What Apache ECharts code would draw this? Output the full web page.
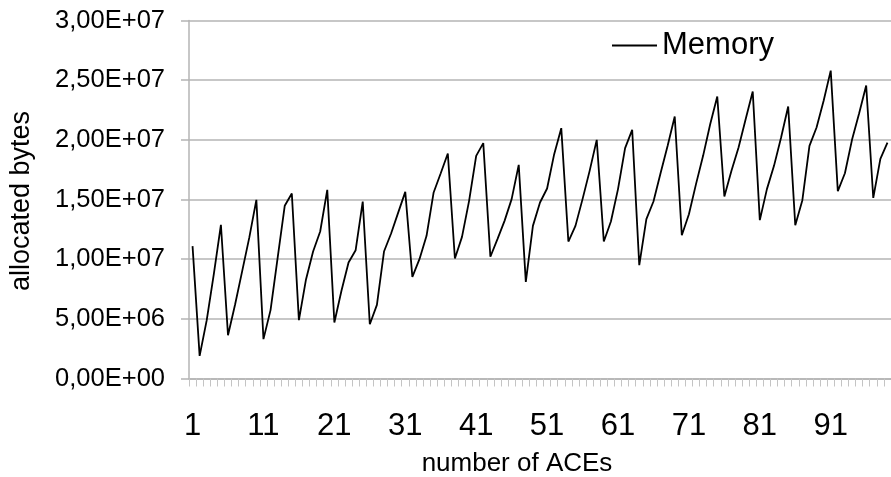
<!DOCTYPE html>
<html>
<head>
<meta charset="utf-8">
<script src="https://cdn.jsdelivr.net/npm/echarts@6/dist/echarts.min.js"></script>
<style>
  html, body { margin: 0; padding: 0; background: #fff; }
  #chart { width: 891px; height: 477px; }
</style>
</head>
<body>
<div id="chart"></div>
<script>
// number of ACEs 1..99 (the right end of the plot is cut off in the picture)
var aces = []
for (var n = 1; n <= 99; n++) aces.push(String(n))

// allocated bytes
var memory = [
  1.109e7, 1.9e6, 4.89e6, 8.74e6, 1.288e7, 3.63e6, 6.2e6, 9.0e6, 1.18e7, 1.497e7,
  3.3e6, 5.73e6, 1.01e7, 1.447e7, 1.55e7, 4.89e6, 8.3e6, 1.064e7, 1.232e7, 1.581e7,
  4.69e6, 7.35e6, 9.72e6, 1.075e7, 1.483e7, 4.55e6, 6.17e6, 1.064e7, 1.215e7, 1.39e7,
  1.564e7, 8.52e6, 1.0e7, 1.196e7, 1.559e7, 1.72e7, 1.886e7, 1.006e7, 1.187e7, 1.489e7,
  1.866e7, 1.972e7, 1.02e7, 1.168e7, 1.321e7, 1.503e7, 1.79e7, 8.1e6, 1.279e7, 1.475e7,
  1.592e7, 1.88e7, 2.098e7, 1.148e7, 1.279e7, 1.503e7, 1.74e7, 2.0e7, 1.148e7, 1.316e7,
  1.587e7, 1.93e7, 2.084e7, 9.5e6, 1.335e7, 1.483e7, 1.72e7, 1.95e7, 2.196e7, 1.2e7,
  1.377e7, 1.629e7, 1.866e7, 2.131e7, 2.363e7, 1.525e7, 1.74e7, 1.936e7, 2.173e7, 2.405e7,
  1.327e7, 1.587e7, 1.782e7, 2.02e7, 2.279e7, 1.285e7, 1.494e7, 1.95e7, 2.103e7, 2.327e7,
  2.58e7, 1.57e7, 1.72e7, 2.0e7, 2.22e7, 2.455e7, 1.513e7, 1.84e7, 1.977e7
]

var yMin = 0
var yMax = 3e7
var yStep = 5e6

// Excel style scientific label: 2,50E+07
function sci(v) {
  if (v === 0) return '0,00E+00'
  var e = Math.floor(Math.log10(v) + 1e-9)
  var m = v / Math.pow(10, e)
  return m.toFixed(2).replace('.', ',') + 'E+' + (e < 10 ? '0' + e : e)
}

var font = 'Liberation Sans, Arial, sans-serif'
var gridGray = '#b4b4b4'

var chart = echarts.init(document.getElementById('chart'))

var option = {
  animation: false,
  backgroundColor: '#fff',
  grid: {
    left: 189,
    right: -5,
    top: 20.5,
    bottom: 98.5,
    containLabel: false
  },
  legend: {
    left: 612,
    top: 30,
    padding: 0,
    icon: 'rect',
    itemWidth: 45,
    itemHeight: 2,
    itemGap: 4,
    textStyle: { fontFamily: font, fontSize: 31, color: '#000' },
    data: ['Memory']
  },
  xAxis: {
    type: 'category',
    data: aces,
    boundaryGap: true,
    axisLine: { lineStyle: { color: gridGray, width: 1.5 } },
    axisTick: {
      show: true,
      interval: 0,
      length: 8,
      lineStyle: { color: '#c4c4c4', width: 1 }
    },
    axisLabel: {
      interval: 9,
      margin: 32,
      fontFamily: font,
      fontSize: 31,
      color: '#000'
    },
    splitLine: { show: false }
  },
  yAxis: {
    type: 'value',
    min: yMin,
    max: yMax,
    interval: yStep,
    axisLine: { show: true, lineStyle: { color: gridGray, width: 1.5 } },
    axisTick: { show: true, length: 8, lineStyle: { color: gridGray, width: 1.5 } },
    axisLabel: {
      margin: 24,
      formatter: sci,
      fontFamily: font,
      fontSize: 25.5,
      color: '#000'
    },
    splitLine: { lineStyle: { color: gridGray, width: 1.5 } }
  },
  graphic: [
    {
      type: 'text',
      x: 22,
      y: 201,
      rotation: Math.PI / 2,
      style: {
        text: 'allocated bytes',
        fontFamily: font,
        fontSize: 27,
        fill: '#000',
        align: 'center',
        verticalAlign: 'middle'
      }
    },
    {
      type: 'text',
      x: 517,
      y: 464,
      style: {
        text: 'number of ACEs',
        fontFamily: font,
        fontSize: 26,
        fill: '#000',
        align: 'center',
        verticalAlign: 'middle'
      }
    }
  ],
  series: [
    {
      name: 'Memory',
      type: 'line',
      data: memory,
      symbol: 'none',
      clip: true,
      lineStyle: { color: '#000', width: 1.8 },
      itemStyle: { color: '#000' }
    }
  ]
}

chart.setOption(option)
</script>
</body>
</html>
